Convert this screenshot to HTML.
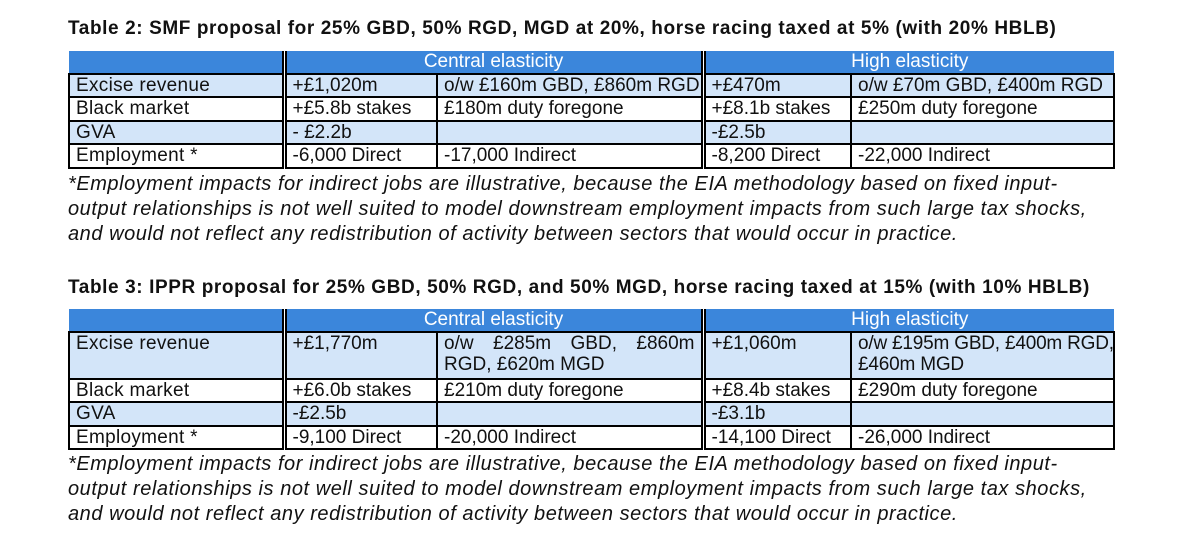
<!DOCTYPE html>
<html><head><meta charset="utf-8"><style>
body{margin:0;width:1200px;height:559px;background:#fff;font-family:"Liberation Sans",sans-serif;color:#111;position:relative;overflow:hidden}
.t{position:absolute;left:68px;font-size:19px;font-weight:bold;white-space:nowrap;letter-spacing:0.6px}
table{position:absolute;left:68px;border-collapse:collapse;table-layout:fixed;width:1045px;font-size:19px}
td{border:2px solid #000;padding:0 6px;line-height:21.5px;height:21.5px;vertical-align:top;white-space:nowrap;overflow:hidden}
td.w{white-space:normal}
tr.h td{background:#3b86db;color:#fff;text-align:center;border-bottom:2px solid #000;border-top:none}
tr.h td:first-child{border-left:none}
tr.h td:last-child{border-right:none}
tr.b td{background:#d3e5f9}
tr.w td{background:#fff}
td.d{border-left:5px double #000}
td.l{letter-spacing:0.3px}
.n{position:absolute;left:68px;font-size:20px;font-style:italic;line-height:25px;white-space:nowrap;letter-spacing:0.55px}
</style></head><body>
<div class="t" style="top:18px">Table 2: SMF proposal for 25% GBD, 50% RGD, MGD at 20%, horse racing taxed at 5% (with 20% HBLB)</div>
<table style="top:51px">
<colgroup><col style="width:215px"><col style="width:153px"><col style="width:266px"><col style="width:148px"><col style="width:263px"></colgroup>
<tr class="h"><td></td><td class="d" colspan="2">Central elasticity</td><td class="d" colspan="2">High elasticity</td></tr>
<tr class="b"><td class="l">Excise revenue</td><td class="d">+£1,020m</td><td>o/w £160m GBD, £860m RGD</td><td class="d">+£470m</td><td>o/w £70m GBD, £400m RGD</td></tr>
<tr class="w"><td class="l">Black market</td><td class="d">+£5.8b stakes</td><td>£180m duty foregone</td><td class="d">+£8.1b stakes</td><td>£250m duty foregone</td></tr>
<tr class="b"><td class="l">GVA</td><td class="d">- £2.2b</td><td></td><td class="d">-£2.5b</td><td></td></tr>
<tr class="w"><td class="l">Employment *</td><td class="d">-6,000 Direct</td><td>-17,000 Indirect</td><td class="d">-8,200 Direct</td><td>-22,000 Indirect</td></tr>
</table>
<div class="n" style="top:172px">*Employment impacts for indirect jobs are illustrative, because the EIA methodology based on fixed input-<br>output relationships is not well suited to model downstream employment impacts from such large tax shocks,<br>and would not reflect any redistribution of activity between sectors that would occur in practice.</div>

<div class="t" style="top:277px">Table 3: IPPR proposal for 25% GBD, 50% RGD, and 50% MGD, horse racing taxed at 15% (with 10% HBLB)</div>
<table style="top:309px">
<colgroup><col style="width:215px"><col style="width:153px"><col style="width:266px"><col style="width:148px"><col style="width:263px"></colgroup>
<tr class="h"><td></td><td class="d" colspan="2">Central elasticity</td><td class="d" colspan="2">High elasticity</td></tr>
<tr class="b"><td class="l" style="height:45px">Excise revenue</td><td class="d">+£1,770m</td><td class="w" style="text-align:justify;text-align-last:left">o/w &nbsp;£285m &nbsp;GBD, &nbsp;£860m RGD, £620m MGD</td><td class="d">+£1,060m</td><td style="white-space:nowrap;letter-spacing:-0.2px">o/w £195m GBD, £400m RGD,<br>£460m MGD</td></tr>
<tr class="w"><td class="l">Black market</td><td class="d">+£6.0b stakes</td><td>£210m duty foregone</td><td class="d">+£8.4b stakes</td><td>£290m duty foregone</td></tr>
<tr class="b"><td class="l">GVA</td><td class="d">-£2.5b</td><td></td><td class="d">-£3.1b</td><td></td></tr>
<tr class="w"><td class="l">Employment *</td><td class="d">-9,100 Direct</td><td>-20,000 Indirect</td><td class="d">-14,100 Direct</td><td>-26,000 Indirect</td></tr>
</table>
<div class="n" style="top:452px">*Employment impacts for indirect jobs are illustrative, because the EIA methodology based on fixed input-<br>output relationships is not well suited to model downstream employment impacts from such large tax shocks,<br>and would not reflect any redistribution of activity between sectors that would occur in practice.</div>
</body></html>
